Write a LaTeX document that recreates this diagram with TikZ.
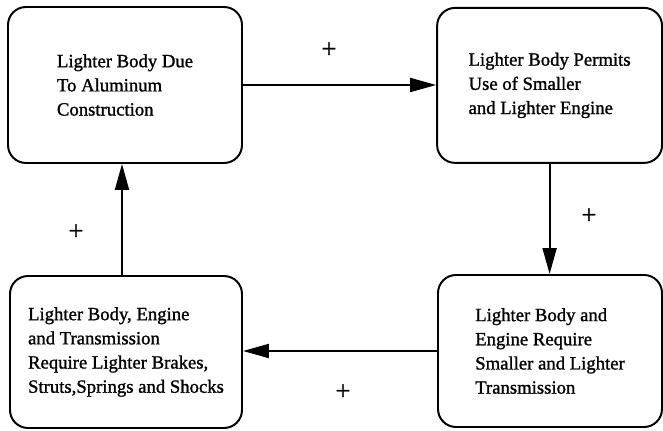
\documentclass[tikz,border=0pt]{standalone}
\usepackage{fontspec}
\setmainfont{Liberation Serif}[BoldFont={Liberation Serif},BoldFeatures={FakeBold=1.2}]
\usetikzlibrary{positioning,arrows.meta}

\tikzset{
  loopbox/.style={draw,line width=1.4pt,rounded corners=4.5mm,align=left,
    font=\fontsize{13.3}{17.2}\selectfont\bfseries},
  loopedge/.style={line width=1.4pt,-{Triangle[length=6.5mm,width=3.5mm]}},
  signlabel/.style={font=\fontsize{19}{19}\selectfont\bfseries}
}

\begin{document}
\begin{tikzpicture}[scale=1,inner sep=0.4mm]
\useasboundingbox (0,0) rectangle (16.575,10.775);

\node (body) [loopbox,minimum width=5.85cm,minimum height=3.9cm] at (3.125,8.65)
  {Lighter Body Due\\To Aluminum\\Construction};
\node (engine) [loopbox,minimum width=5.625cm,minimum height=3.875cm] at (13.74,8.64)
  {Lighter Body Permits\\Use of Smaller\\and Lighter Engine};
\node (trans) [loopbox,minimum width=5.6cm,minimum height=3.8cm] at (13.75,2.0)
  {Lighter Body and\\Engine Require\\Smaller and Lighter\\Transmission};
\node (brakes) [loopbox,minimum width=5.8cm,minimum height=3.8cm] at (3.15,1.975)
  {Lighter Body, Engine\\and Transmission\\Require Lighter Brakes,\\Struts,Springs and Shocks};

\draw [loopedge] (body.east) -- (body.east -| engine.west);
\draw [loopedge] (engine.south) -- (engine.south |- trans.north);
\draw [loopedge] (trans.west) -- (trans.west -| brakes.east);
\draw [loopedge] ([xshift=-1mm]brakes.north) -- ([xshift=-1mm]brakes.north |- body.south);

\node (s1) [signlabel] at (8.225,9.525) {+};
\node (s2) [signlabel] at (14.725,5.375) {+};
\node (s3) [signlabel] at (8.575,0.975) {+};
\node (s4) [signlabel] at (1.9,4.975) {+};
\end{tikzpicture}
\end{document}
